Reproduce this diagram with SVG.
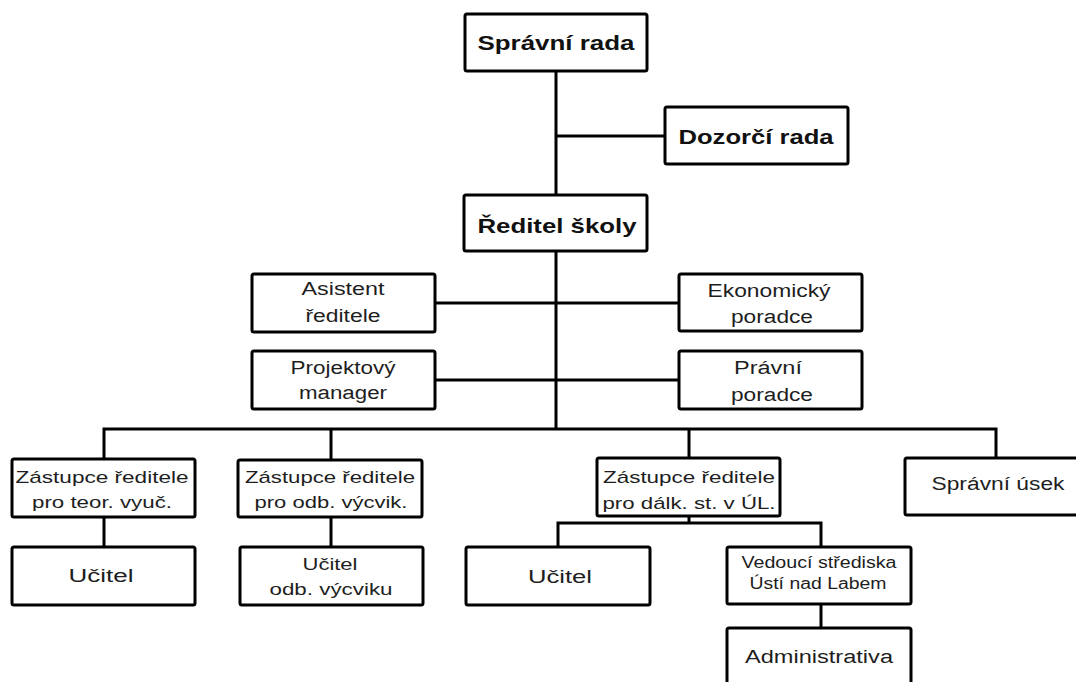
<svg xmlns="http://www.w3.org/2000/svg" width="1076" height="682" viewBox="0 0 1076 682">
<style>
.box{fill:#fff;stroke:#000;stroke-width:3;}
.con{fill:none;stroke:#000;stroke-width:3;}
text{font-family:"Liberation Sans",Arial,sans-serif;fill:#1e1e1e;text-anchor:middle;}
.b{font-weight:bold;font-size:21px;fill:#111;}
.m{font-size:18px;}
.s{font-size:17px;}
.t{font-size:16px;}
</style>
<rect width="1076" height="682" fill="#fff"/>
<g id="connectors">
<path class="con" d="M556 71V195M556 136H665M556 251V429M435 303H679M435 380H679M104 459V429H996V458M331 429V460M689 429V458M689 516V523M558 547V523H821V547M104 517V547M331 517V547M821 604V628"/>
</g>
<g id="spravni-rada"><rect class="box" x="465" y="14" width="182" height="57" rx="2"/><text class="b" x="556" y="50" textLength="157" lengthAdjust="spacingAndGlyphs">Správní rada</text></g>
<g id="dozorci-rada"><rect class="box" x="665" y="107" width="183" height="57" rx="2"/><text class="b" x="756" y="144" textLength="155" lengthAdjust="spacingAndGlyphs">Dozorčí rada</text></g>
<g id="reditel-skoly"><rect class="box" x="464" y="195" width="183" height="56" rx="2"/><text class="b" x="557" y="233" textLength="159" lengthAdjust="spacingAndGlyphs">Ředitel školy</text></g>
<g id="asistent"><rect class="box" x="252" y="274" width="183" height="58" rx="2"/><text class="m" x="343" y="295" textLength="83" lengthAdjust="spacingAndGlyphs">Asistent</text><text class="m" x="343" y="322" textLength="75" lengthAdjust="spacingAndGlyphs">ředitele</text></g>
<g id="projektovy"><rect class="box" x="252" y="351" width="183" height="58" rx="2"/><text class="m" x="343" y="374" textLength="105" lengthAdjust="spacingAndGlyphs">Projektový</text><text class="m" x="343" y="399" textLength="88" lengthAdjust="spacingAndGlyphs">manager</text></g>
<g id="ekonomicky"><rect class="box" x="679" y="274" width="183" height="57" rx="2"/><text class="m" x="769" y="297" textLength="123" lengthAdjust="spacingAndGlyphs">Ekonomický</text><text class="m" x="772" y="323" textLength="82" lengthAdjust="spacingAndGlyphs">poradce</text></g>
<g id="pravni"><rect class="box" x="679" y="351" width="183" height="58" rx="2"/><text class="m" x="768" y="374" textLength="68" lengthAdjust="spacingAndGlyphs">Právní</text><text class="m" x="772" y="401" textLength="82" lengthAdjust="spacingAndGlyphs">poradce</text></g>
<g id="zastupce-teor"><rect class="box" x="12" y="459" width="183" height="58" rx="2"/><text class="s" x="102" y="483" textLength="173" lengthAdjust="spacingAndGlyphs">Zástupce ředitele</text><text class="s" x="102" y="508" textLength="140" lengthAdjust="spacingAndGlyphs">pro teor. vyuč.</text></g>
<g id="zastupce-odb"><rect class="box" x="238" y="460" width="184" height="57" rx="2"/><text class="s" x="330" y="483" textLength="170" lengthAdjust="spacingAndGlyphs">Zástupce ředitele</text><text class="s" x="331" y="508" textLength="153" lengthAdjust="spacingAndGlyphs">pro odb. výcvik.</text></g>
<g id="zastupce-dalk"><rect class="box" x="597" y="458" width="183" height="58" rx="2"/><text class="s" x="689" y="483" textLength="172" lengthAdjust="spacingAndGlyphs">Zástupce ředitele</text><text class="s" x="689" y="509" textLength="173" lengthAdjust="spacingAndGlyphs">pro dálk. st. v ÚL.</text></g>
<g id="spravni-usek"><rect class="box" x="905" y="458" width="200" height="57" rx="2"/><text class="m" x="998" y="490" textLength="133" lengthAdjust="spacingAndGlyphs">Správní úsek</text></g>
<g id="ucitel-teor"><rect class="box" x="12" y="547" width="183" height="58" rx="2"/><text class="m" x="101" y="582" textLength="65" lengthAdjust="spacingAndGlyphs">Učitel</text></g>
<g id="ucitel-odb"><rect class="box" x="240" y="547" width="183" height="58" rx="2"/><text class="s" x="330" y="570" textLength="55" lengthAdjust="spacingAndGlyphs">Učitel</text><text class="s" x="331" y="595" textLength="123" lengthAdjust="spacingAndGlyphs">odb. výcviku</text></g>
<g id="ucitel-dalk"><rect class="box" x="466" y="547" width="184" height="58" rx="2"/><text class="m" x="560" y="583" textLength="64" lengthAdjust="spacingAndGlyphs">Učitel</text></g>
<g id="vedouci"><rect class="box" x="727" y="547" width="184" height="57" rx="2"/><text class="t" x="819" y="568" textLength="155" lengthAdjust="spacingAndGlyphs">Vedoucí střediska</text><text class="t" x="818" y="589" textLength="137" lengthAdjust="spacingAndGlyphs">Ústí nad Labem</text></g>
<g id="administrativa"><rect class="box" x="727" y="628" width="184" height="70" rx="2"/><text class="m" x="819" y="663" textLength="148" lengthAdjust="spacingAndGlyphs">Administrativa</text></g>
</svg>
